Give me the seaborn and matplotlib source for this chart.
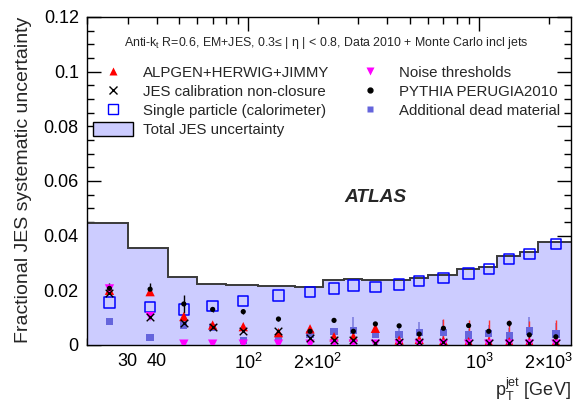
import numpy as np
import pandas as pd
import matplotlib
matplotlib.use("Agg")
import matplotlib.pyplot as plt
import seaborn as sns
from matplotlib.lines import Line2D
from matplotlib.patches import Patch
from matplotlib.ticker import FixedLocator, FuncFormatter, MultipleLocator

# pT bins (GeV) and bin centres
edges = [20, 30, 45, 60, 80, 110, 160, 210, 260, 310, 400, 500, 600, 800, 1000, 1200, 1500, 1800, 2500]
pt = [25, 37.5, 52.5, 70, 95, 135, 185, 235, 285, 355, 450, 550, 700, 900, 1100, 1350, 1650, 2150]

total = [0.0445, 0.0354, 0.0250, 0.0223, 0.0219, 0.0216, 0.0213, 0.0238, 0.0241, 0.0237,
         0.0237, 0.0244, 0.0256, 0.0277, 0.0286, 0.0325, 0.0341, 0.0375]
single = [0.0155, 0.0140, 0.0130, 0.0143, 0.0161, 0.0181, 0.0193, 0.0207, 0.0217, 0.0212,
          0.0221, 0.0235, 0.0244, 0.0261, 0.0277, 0.0314, 0.0333, 0.0370]
pythia = [0.0207, 0.0204, 0.0150, 0.0130, 0.0122, 0.0095, 0.0050, 0.0090, 0.0050, 0.0077,
          0.0070, 0.0040, 0.0061, 0.0071, 0.0050, 0.0079, 0.0037, 0.0030]
pythia_err = [0.0020, 0.0022, 0.0032, 0.0010, 0.0008, 0.0009, 0.0008, 0.0006, 0.0006, 0.0006,
              0.0006, 0.0006, 0.0007, 0.0007, 0.0008, 0.0008, 0.0009, 0.0010]
alpgen = [0.0200, 0.0195, 0.0104, 0.0073, 0.0067, 0.0045, 0.0059, 0.0030, 0.0030, 0.0061,
          0.0018, 0.0020, 0.0015, 0.0012, 0.0012, 0.0012, 0.0012, 0.0012]
alpgen_err = [0, 0, 0, 0, 0, 0, 0, 0, 0, 0, 0, 0, 0.0080, 0.0080, 0.0080, 0.0080, 0.0075, 0.0080]
jes = [0.0189, 0.0104, 0.0079, 0.0067, 0.0051, 0.0051, 0.0024, 0.0020, 0.0018, 0.0009,
       0.0012, 0.0010, 0.0010, 0.0009, 0.0006, 0.0008, 0.0008, 0.0008]
noise = [0.0205, 0.0104, 0.0003, 0.0003, 0.0003, 0.0003, 0.0003, 0.0003, 0.0003, 0.0003,
         0.0003, 0.0003, 0.0003, 0.0003, 0.0003, 0.0003, 0.0003, 0.0003]
dead = [0.0085, 0.0027, 0.0073, 0.0063, 0.0016, 0.0028, 0.0039, 0.0050, 0.0052, 0.0039,
        0.0039, 0.0045, 0.0046, 0.0037, 0.0043, 0.0033, 0.0051, 0.0040]
dead_err = [0, 0, 0, 0, 0.0005, 0.0005, 0.0010, 0.0012, 0.0050, 0.0015, 0.0035, 0.0040,
            0.0045, 0.0020, 0.0030, 0.0030, 0.0050, 0.0040]

df = pd.DataFrame({"pt": pt, "single": single, "pythia": pythia, "alpgen": alpgen,
                   "jes": jes, "noise": noise, "dead": dead})

sns.set_theme(style="ticks")
plt.rcParams["font.family"] = ["Liberation Sans", "DejaVu Sans"]
plt.rcParams["mathtext.fontset"] = "custom"
plt.rcParams["mathtext.rm"] = "Liberation Sans"
plt.rcParams["mathtext.it"] = "Liberation Sans:italic"
plt.rcParams["mathtext.bf"] = "Liberation Sans:bold"

fill_col = "#ccccff"
dead_col = "#6565dc"

fig, ax = plt.subplots(figsize=(5.73, 4.03), dpi=100)
fig.subplots_adjust(left=0.152, right=0.9965, bottom=0.144, top=0.958)
ax.set_xscale("log")

# total uncertainty band
ax.fill_between(edges, list(total) + [total[-1]], step="post", color=fill_col, lw=0, zorder=1)
ax.stairs(total, edges, color="#3a3a3a", lw=1.4, baseline=None, zorder=2)

# error bars
ax.errorbar(pt, dead, yerr=dead_err, fmt="none", ecolor="#8080e0", lw=1.2, zorder=3)
ax.errorbar(pt, alpgen, yerr=alpgen_err, fmt="none", ecolor="#ff3030", lw=1.0, zorder=3)
ax.errorbar(pt, pythia, yerr=pythia_err, fmt="none", ecolor="black", lw=1.0, zorder=4)

sns.scatterplot(data=df, x="pt", y="single", marker="s", s=55, color="blue",
                facecolor="none", edgecolor="blue", linewidth=1.1, ax=ax, legend=False, zorder=5)
sns.scatterplot(data=df, x="pt", y="dead", marker="s", s=28, color=dead_col,
                edgecolor="none", ax=ax, legend=False, zorder=5)
sns.scatterplot(data=df, x="pt", y="alpgen", marker="^", s=45, color="red",
                edgecolor="none", ax=ax, legend=False, zorder=6)
sns.scatterplot(data=df, x="pt", y="noise", marker="v", s=45, color="magenta",
                edgecolor="none", ax=ax, legend=False, zorder=6)
sns.scatterplot(data=df, x="pt", y="jes", marker="x", s=30, color="black",
                linewidth=1.0, ax=ax, legend=False, zorder=7)
sns.scatterplot(data=df, x="pt", y="pythia", marker="o", s=14, color="black",
                edgecolor="none", ax=ax, legend=False, zorder=8)

ax.set_xlim(20, 2500)
ax.set_ylim(0, 0.12)

# axes ticks
ax.yaxis.set_major_locator(MultipleLocator(0.02))
ax.yaxis.set_minor_locator(MultipleLocator(0.005))
ax.yaxis.set_major_formatter(FuncFormatter(lambda v, p: "%g" % round(v, 4)))

ax.xaxis.set_major_locator(FixedLocator([100, 1000]))
ax.xaxis.set_major_formatter(FuncFormatter(lambda v, p: "$10^{%d}$" % round(np.log10(v))))
minors = [20, 30, 40, 50, 60, 70, 80, 90, 200, 300, 400, 500, 600, 700, 800, 900, 2000]
minor_labels = {30: "30", 40: "40", 200: r"$2{\times}10^{2}$", 2000: r"$2{\times}10^{3}$"}
ax.xaxis.set_minor_locator(FixedLocator(minors))
ax.xaxis.set_minor_formatter(FuncFormatter(lambda v, p: minor_labels.get(int(round(v)), "")))

ax.tick_params(which="both", direction="in", top=True, right=True, colors="black",
               labelsize=13, width=1.0)
ax.tick_params(which="major", length=10, pad=6)
ax.tick_params(which="minor", length=5, pad=6)
for sp in ax.spines.values():
    sp.set_color("black")
    sp.set_linewidth(1.0)

ax.set_ylabel("Fractional JES systematic uncertainty", fontsize=14, loc="top", labelpad=8)
ax.set_xlabel(r"$\mathrm{p}_{\mathrm{T}}^{\mathrm{jet}}$ [GeV]", fontsize=13, loc="right", labelpad=2)

ax.text(0.494, 0.92, "Anti-k$_{\\mathrm{t}}$ R=0.6, EM+JES, 0.3≤ | η | < 0.8, Data 2010 + Monte Carlo incl jets",
        transform=ax.transAxes, ha="center", va="center", fontsize=8.9)
ax.text(0.531, 0.451, "ATLAS", transform=ax.transAxes, ha="left", va="center",
        fontsize=13.8, fontweight="bold", style="italic")

handles = [
    Line2D([], [], ls="none", marker="^", ms=6, color="red", mec="none"),
    Line2D([], [], ls="none", marker="x", ms=6, color="black"),
    Line2D([], [], ls="none", marker="s", ms=7, mfc="none", mec="blue"),
    Patch(facecolor=fill_col, edgecolor="black", lw=1.0),
    Line2D([], [], ls="none", marker="v", ms=6, color="magenta", mec="none"),
    Line2D([], [], ls="none", marker="o", ms=3.5, color="black"),
    Line2D([], [], ls="none", marker="s", ms=5, color=dead_col, mec="none"),
]
labels = ["ALPGEN+HERWIG+JIMMY", "JES calibration non-closure", "Single particle (calorimeter)",
          "Total JES uncertainty", "Noise thresholds", "PYTHIA PERUGIA2010", "Additional dead material"]
ax.legend(handles, labels, ncol=2, loc="upper left", bbox_to_anchor=(0.012, 0.853),
          frameon=False, fontsize=10.8, borderpad=0, borderaxespad=0, handlelength=2.7,
          handleheight=1.0, handletextpad=0.62, labelspacing=0.28, columnspacing=1.35)

fig.savefig("out.png", dpi=100)
